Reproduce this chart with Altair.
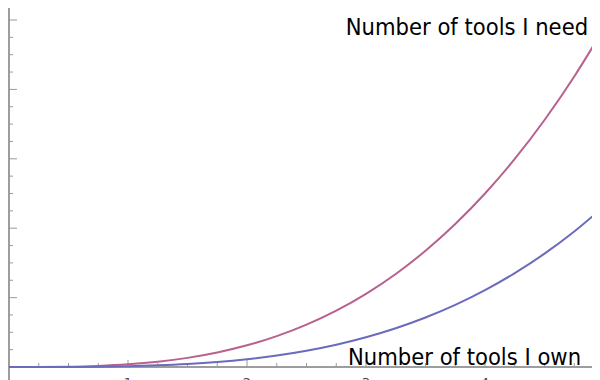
import altair as alt
import pandas as pd

# ---- data ----
x_vals = [0, 0.25, 0.5, 0.75, 1, 1.25, 1.5, 1.75, 2, 2.25, 2.5, 2.75, 3,
          3.25, 3.5, 3.75, 4, 4.25, 4.5, 4.75, 5]
need_vals = [0, 0.0006, 0.0049, 0.0165, 0.0391, 0.0763, 0.1318, 0.2093, 0.3125,
             0.4449, 0.6103, 0.8125, 1.0547, 1.3410, 1.6747, 2.0597, 2.4998,
             2.9986, 3.5594, 4.1861, 4.8825]
own_vals = [0, 0.0001, 0.0012, 0.0044, 0.0114, 0.0239, 0.0435, 0.0724, 0.1125,
            0.1659, 0.2348, 0.3216, 0.4288, 0.5583, 0.7130, 0.8952, 1.1076,
            1.3532, 1.6335, 1.9527, 2.3136]
series_names = ["Number of tools I need", "Number of tools I own"]
series_colors = ["#b8608e", "#6b6bbd"]

x_major_ticks = [1, 2, 3, 4, 5]
x_tick_labels = ["1", "2", "3", "4", "5"]
x_minor_ticks = [0.25, 0.5, 0.75, 1.25, 1.5, 1.75, 2.25, 2.5, 2.75, 3.25, 3.5,
                 3.75, 4.25, 4.5, 4.75]
y_major_ticks = [1, 2, 3, 4, 5]
y_tick_labels = ["1", "2", "3", "4", "5"]
y_minor_ticks = [0.25, 0.5, 0.75, 1.25, 1.5, 1.75, 2.25, 2.5, 2.75, 3.25, 3.5,
                 3.75, 4.25, 4.5, 4.75, 5.25]

label_text = ["Number of tools I need", "Number of tools I own"]
label_x = [4.866, 4.807]
label_y = [4.784, 0.03]

X_DOMAIN = [-0.0756, 4.899]
Y_DOMAIN = [-0.187, 5.288]

# ---- tables ----
curves = pd.DataFrame({
    "x": x_vals * 2,
    "value": need_vals + own_vals,
    "series": [series_names[0]] * len(x_vals) + [series_names[1]] * len(x_vals),
})
xmaj = pd.DataFrame({"t": x_major_ticks, "lab": x_tick_labels})
xmin = pd.DataFrame({"t": x_minor_ticks})
ymaj = pd.DataFrame({"t": y_major_ticks, "lab": y_tick_labels})
ymin = pd.DataFrame({"t": y_minor_ticks})
labels = pd.DataFrame({"text": label_text, "x": label_x, "y": label_y})

xs = alt.Scale(domain=X_DOMAIN, nice=False, zero=False)
ys = alt.Scale(domain=Y_DOMAIN, nice=False, zero=False)
AX = "#9a9a9a"
W, H = 592, 380

x_axis_line = alt.Chart(xmaj).mark_rule(color=AX, strokeWidth=1).encode(
    x=alt.XValue(0), x2=alt.X2Value(W),
    y=alt.YDatum(0, scale=ys, axis=None),
)
y_axis_line = alt.Chart(xmaj).mark_rule(color=AX, strokeWidth=1).encode(
    y=alt.YValue(0), y2=alt.Y2Value(H),
    x=alt.XDatum(0, scale=xs, axis=None),
)
x_major = alt.Chart(xmaj).mark_rule(color=AX, y2Offset=-7, clip=True).encode(
    x=alt.X("t:Q", scale=xs, axis=None),
    y=alt.YDatum(0, scale=ys, axis=None), y2=alt.Y2Datum(0),
)
x_minor = alt.Chart(xmin).mark_rule(color=AX, y2Offset=-4, clip=True).encode(
    x=alt.X("t:Q", scale=xs, axis=None),
    y=alt.YDatum(0, scale=ys, axis=None), y2=alt.Y2Datum(0),
)
y_major = alt.Chart(ymaj).mark_rule(color=AX, x2Offset=8, clip=True).encode(
    y=alt.Y("t:Q", scale=ys, axis=None),
    x=alt.XDatum(0, scale=xs, axis=None), x2=alt.X2Datum(0),
)
y_minor = alt.Chart(ymin).mark_rule(color=AX, x2Offset=4, clip=True).encode(
    y=alt.Y("t:Q", scale=ys, axis=None),
    x=alt.XDatum(0, scale=xs, axis=None), x2=alt.X2Datum(0),
)
x_labels = alt.Chart(xmaj).mark_text(baseline="top", dy=10, fontSize=13,
                                     color="#444444", font="DejaVu Sans").encode(
    x=alt.X("t:Q", scale=xs, axis=None),
    y=alt.YDatum(0, scale=ys, axis=None),
    text="lab:N",
)
y_labels = alt.Chart(ymaj).mark_text(align="right", baseline="middle", dx=-6,
                                     fontSize=13, color="#444444",
                                     font="DejaVu Sans").encode(
    y=alt.Y("t:Q", scale=ys, axis=None),
    x=alt.XDatum(0, scale=xs, axis=None),
    text="lab:N",
)

lines = alt.Chart(curves).mark_line(strokeWidth=2, interpolate="monotone",
                                    clip=True).encode(
    x=alt.X("x:Q", scale=xs, axis=None),
    y=alt.Y("value:Q", scale=ys, axis=None),
    color=alt.Color("series:N", scale=alt.Scale(domain=series_names,
                                                range=series_colors),
                    legend=None),
    detail="series:N",
)

texts = alt.Chart(labels).mark_text(align="right", baseline="alphabetic",
                                    fontSize=23.5, color="black",
                                    font="DejaVu Sans Condensed, Liberation Sans, sans-serif").encode(
    x=alt.X("x:Q", scale=xs, axis=None),
    y=alt.Y("y:Q", scale=ys, axis=None),
    text="text:N",
)

chart = alt.layer(
    x_axis_line, y_axis_line, x_major, x_minor, y_major, y_minor, x_labels,
    y_labels, lines, texts,
).properties(
    width=W, height=H,
    padding={"left": -8, "top": -8, "right": 0, "bottom": 0},
    autosize=alt.AutoSizeParams(type="none"),
    background="white",
).configure_view(stroke=None)

chart.save("out.html", embed_options={"renderer": "svg", "actions": False})
